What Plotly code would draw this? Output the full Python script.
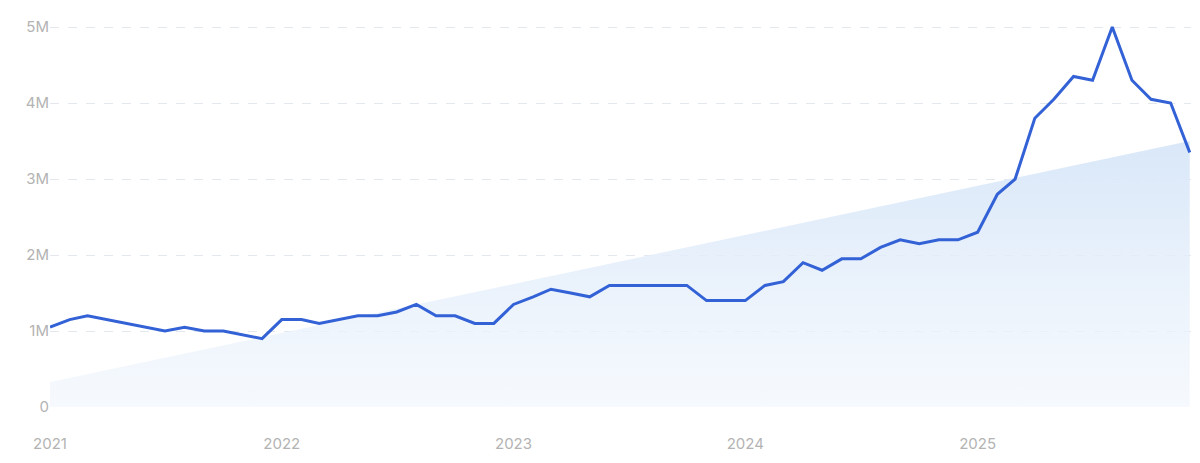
import pandas as pd
import plotly.graph_objects as go

# monthly search volume, Jan 2021 - Dec 2025
months = pd.date_range("2021-01-01", periods=60, freq="MS")
volume = [1.05, 1.15, 1.2, 1.15, 1.1, 1.05, 1.0, 1.05, 1.0, 1.0, 0.95, 0.9,
          1.15, 1.15, 1.1, 1.15, 1.2, 1.2, 1.25, 1.35, 1.2, 1.2, 1.1, 1.1,
          1.35, 1.45, 1.55, 1.5, 1.45, 1.6, 1.6, 1.6, 1.6, 1.6, 1.4, 1.4,
          1.4, 1.6, 1.65, 1.9, 1.8, 1.95, 1.95, 2.1, 2.2, 2.15, 2.2, 2.2,
          2.3, 2.8, 3.0, 3.8, 4.05, 4.35, 4.3, 5.0, 4.3, 4.05, 4.0, 3.35]
volume = [v * 1e6 for v in volume]

# linear trend band
trend_x = [months[0], months[-1]]
trend_y = [0.33e6, 3.5e6]

fig = go.Figure()
fig.add_trace(go.Scatter(
    x=trend_x, y=trend_y, mode="lines", line=dict(width=0),
    fill="tozeroy",
    fillgradient=dict(type="vertical",
                      colorscale=[[0, "rgba(242,247,253,0.7)"], [1, "rgba(215,230,248,0.95)"]]),
    hoverinfo="skip", showlegend=False))
fig.add_trace(go.Scatter(
    x=months, y=volume, mode="lines",
    line=dict(color="#3361d6", width=3), showlegend=False, cliponaxis=False))

# page has an 8px body margin, so margins are shifted by that
fig.update_layout(
    width=1200, height=463,
    margin=dict(l=42, r=17, t=9, b=64),
    paper_bgcolor="white", plot_bgcolor="white",
    font=dict(family="Inter", size=15, color="#b3b3b3"),
)
fig.update_xaxes(
    type="date", autorange=False,
    range=["2021-01-01", "2025-12-03"],
    tickvals=["2021-01-01", "2022-01-01", "2023-01-01", "2024-01-01", "2025-01-01"],
    ticktext=["2021", "2022", "2023", "2024", "2025"],
    tickfont=dict(color="#b3b3b3", size=15),
    ticklabelstandoff=26,
    showgrid=False, zeroline=False, showline=False, ticks="")
fig.update_yaxes(
    autorange=False, range=[0, 5.08e6],
    tickvals=[0, 1e6, 2e6, 3e6, 4e6, 5e6],
    ticktext=["0", "1M", "2M", "3M", "4M", "5M"],
    tickfont=dict(color="#b3b3b3", size=15),
    ticklabelstandoff=0,
    showgrid=True, gridcolor="#e3e8ef", griddash="dash", gridwidth=1,
    zeroline=False, showline=False)

fig.write_html("out.html")
